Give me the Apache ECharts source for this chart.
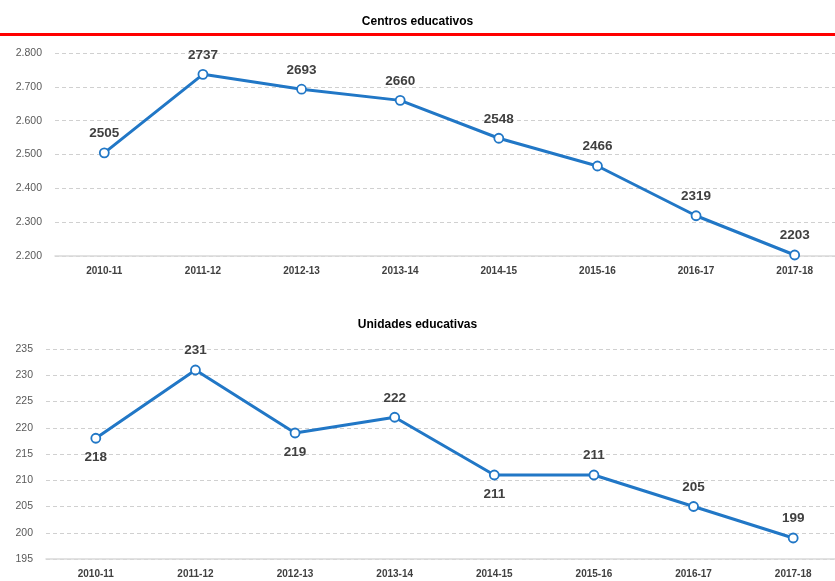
<!DOCTYPE html>
<html><head><meta charset="utf-8">
<script src="https://cdn.jsdelivr.net/npm/echarts@6/dist/echarts.min.js"></script>
<style>html,body{margin:0;padding:0;background:#fff}#c{width:835px;height:581px}</style>
</head><body><div id="c"></div>
<script>
var categories = ['2010-11','2011-12','2012-13','2013-14','2014-15','2015-16','2016-17','2017-18'];
var centros = [2505, 2737, 2693, 2660, 2548, 2466, 2319, 2203];
var unidades = [218, 231, 219, 222, 211, 211, 205, 199];
var unidadesLabelBelow = [true, false, true, false, true, false, false, false];
var titles = ['Centros educativos', 'Unidades educativas'];

var chart = echarts.init(document.getElementById('c'), null, {renderer:'canvas'});
var font = 'Arial, "Liberation Sans", sans-serif';
function xAxis(gi){
  return {type:'category', gridIndex:gi, data:categories, boundaryGap:true,
    axisLine:{show:true, lineStyle:{color:'#d9d9d9', width:1.5}}, axisTick:{show:false},
    axisLabel:{color:'#404040', fontWeight:'bold', fontSize:10, fontFamily:font, margin:10}};
}
function yAxis(gi, min, max, interval, fmt){
  return {type:'value', gridIndex:gi, min:min, max:max, interval:interval,
    axisLine:{show:false}, axisTick:{show:false},
    splitLine:{show:true, lineStyle:{color:'#d0d0d0', type:[4,3], width:1}},
    axisLabel:{color:'#595959', fontSize:10.5, fontFamily:font, margin:13, formatter:fmt}};
}
var lineStyle = {color:'#2177c6', width:3};
var itemStyle = {color:'#fff', borderColor:'#2177c6', borderWidth:1.8};
var labelBase = {show:true, fontWeight:'bold', fontSize:13.5, color:'#404040', fontFamily:font, distance:7};
chart.setOption({
  animation:false,
  title:[
    {text:titles[0], left:'center', top:11, textStyle:{fontSize:12, fontWeight:'bold', color:'#000', fontFamily:font}},
    {text:titles[1], left:'center', top:314, textStyle:{fontSize:12, fontWeight:'bold', color:'#000', fontFamily:font}}
  ],
  graphic:[{type:'rect', shape:{x:0, y:33, width:835, height:3}, style:{fill:'#ff0000'}}],
  grid:[
    {left:55, width:789, top:53, height:203, containLabel:false, outerBoundsMode:'none'},
    {left:46, width:797, top:349, height:210, containLabel:false, outerBoundsMode:'none'}
  ],
  xAxis:[xAxis(0), xAxis(1)],
  yAxis:[
    yAxis(0, 2200, 2800, 100, function(v){return String(v).replace(/(\d)(\d{3})$/, '$1.$2');}),
    yAxis(1, 195, 235, 5, null)
  ],
  series:[
    {type:'line', xAxisIndex:0, yAxisIndex:0, data:centros, symbol:'circle', symbolSize:9,
     lineStyle:lineStyle, itemStyle:itemStyle, label:Object.assign({position:'top'}, labelBase)},
    {type:'line', xAxisIndex:1, yAxisIndex:1, symbol:'circle', symbolSize:9,
     data:unidades.map(function(v,i){return {value:v, label:{position: unidadesLabelBelow[i] ? 'bottom':'top'}};}),
     lineStyle:lineStyle, itemStyle:itemStyle, label:Object.assign({position:'top'}, labelBase)}
  ]
});
</script></body></html>
